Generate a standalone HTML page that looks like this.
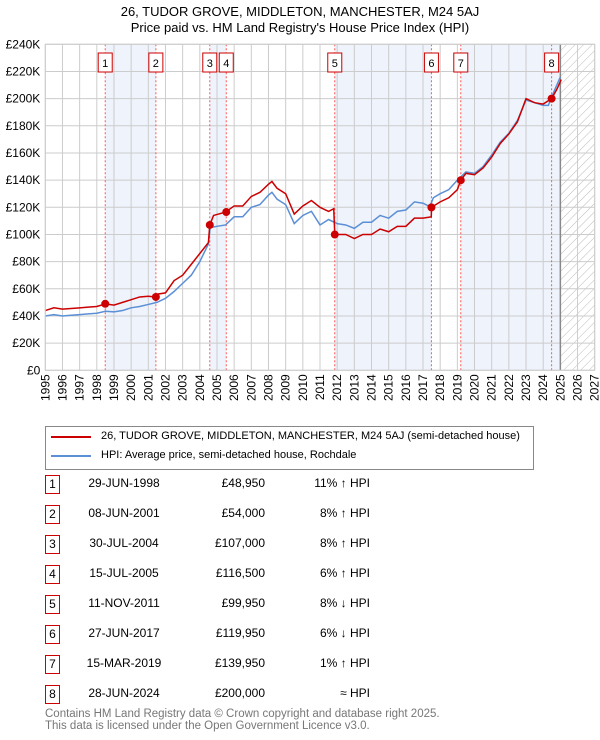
<!DOCTYPE html>
<html><head><meta charset="utf-8"><style>
body{margin:0;background:#fff;font-family:"Liberation Sans","DejaVu Sans",sans-serif;}
#wrap{position:relative;width:600px;height:740px;overflow:hidden;}
.t{position:absolute;font-size:12px;color:#000;white-space:nowrap;}
.box{position:absolute;border:1px solid #c00;width:13px;height:17px;font-size:12px;text-align:center;line-height:17px;}
</style></head><body><div id="wrap">
<svg id="svg" width="600" height="420" style="position:absolute;left:0;top:0">
<defs><pattern id="hatch" width="6" height="6" patternUnits="userSpaceOnUse" patternTransform="rotate(45)"><rect width="6" height="6" fill="#fff"/><line x1="0" y1="0" x2="0" y2="6" stroke="#bbb" stroke-width="1"/></pattern></defs>
<text x="300" y="16" text-anchor="middle" font-size="13" font-family="Liberation Sans, DejaVu Sans, sans-serif">26, TUDOR GROVE, MIDDLETON, MANCHESTER, M24 5AJ</text>
<text x="300" y="32" text-anchor="middle" font-size="13" font-family="Liberation Sans, DejaVu Sans, sans-serif">Price paid vs. HM Land Registry's House Price Index (HPI)</text>
</svg>
<div style="position:absolute;left:45px;top:426px;width:487px;height:42px;border:1px solid #888;">
<div style="position:absolute;left:5px;top:9px;width:40px;height:2px;background:#c00"></div>
<div class="t" style="left:55px;top:3px;font-size:11px">26, TUDOR GROVE, MIDDLETON, MANCHESTER, M24 5AJ (semi-detached house)</div>
<div style="position:absolute;left:5px;top:28px;width:40px;height:2px;background:#5b8fd6"></div>
<div class="t" style="left:55px;top:22px;font-size:11px">HPI: Average price, semi-detached house, Rochdale</div>
</div>
<div id="table"></div>
<div class="t" style="left:45px;top:709px;color:#777;font-size:11.5px;line-height:11.5px">Contains HM Land Registry data © Crown copyright and database right 2025.<br>This data is licensed under the Open Government Licence v3.0.</div>
</div>
<script>
const yearTicks=[1995,1996,1997,1998,1999,2000,2001,2002,2003,2004,2005,2006,2007,2008,2009,2010,2011,2012,2013,2014,2015,2016,2017,2018,2019,2020,2021,2022,2023,2024,2025,2026,2027];
const valueTicks=[0,20,40,60,80,100,120,140,160,180,200,220,240];
const valueTickLabels=["£0","£20K","£40K","£60K","£80K","£100K","£120K","£140K","£160K","£180K","£200K","£220K","£240K"];
const hpiYears=[1995,1995.5,1996,1996.5,1997,1997.5,1998,1998.5,1999,1999.5,2000,2000.5,2001,2001.5,2002,2002.5,2003,2003.5,2004,2004.5,2004.6,2005,2005.5,2006,2006.5,2007,2007.5,2008,2008.2,2008.5,2009,2009.5,2010,2010.5,2011,2011.5,2012,2012.5,2013,2013.5,2014,2014.5,2015,2015.5,2016,2016.5,2017,2017.4,2017.6,2018,2018.5,2019,2019.5,2020,2020.5,2021,2021.5,2022,2022.5,2023,2023.5,2024,2024.3,2024.5,2025];
const hpiValues=[40,41,40,40.5,41,41.5,42,43.5,43,44,46,47,48.5,50,53,58,64,70,80,93,105,106,107,113,113,120,122,129,131,126,122,108,114,117,107,111,108,107,104.5,109,109,114,112,117,118,124,123,120.5,127,130,133,140,146,145,150,158.5,168,174.5,184,199,197,195,195,201.5,216];
const priceYears=[1995,1995.5,1996,1996.5,1997,1997.5,1998,1998.5,1999,1999.5,2000,2000.5,2001,2001.4,2001.5,2002,2002.5,2003,2003.5,2004,2004.5,2004.58,2004.8,2005.5,2006,2006.5,2007,2007.5,2008,2008.2,2008.5,2009,2009.5,2010,2010.5,2011,2011.5,2011.8,2011.86,2012.5,2013,2013.5,2014,2014.5,2015,2015.5,2016,2016.5,2017,2017.48,2017.5,2018,2018.5,2019,2019.2,2019.5,2020,2020.5,2021,2021.5,2022,2022.5,2023,2023.5,2024,2024.49,2024.8,2025.05];
const priceValues=[44,46,45,45.5,46,46.5,47,48.9,48,50,52,54,54.5,54,56,57,66,70,78,86,94,107,114,116.5,121,121,128,131,137,139,134,130,115,121,125,120,117,119,100,100,97,100,100,104,102,106,106,112,112,113,120,124,127,133,140,145,144,149,157,167,174,183,200,197,196,200,207,214];
const saleLabels=["1","2","3","4","5","6","7","8"];
const saleYears=[1998.49,2001.44,2004.58,2005.54,2011.86,2017.49,2019.2,2024.49];
const salePrices=[48.95,54,107,116.5,99.95,119.95,139.95,200];
const saleDates=["29-JUN-1998","08-JUN-2001","30-JUL-2004","15-JUL-2005","11-NOV-2011","27-JUN-2017","15-MAR-2019","28-JUN-2024"];
const salePriceText=["£48,950","£54,000","£107,000","£116,500","£99,950","£119,950","£139,950","£200,000"];
const saleHpiText=["11% ↑ HPI","8% ↑ HPI","8% ↑ HPI","6% ↑ HPI","8% ↓ HPI","6% ↓ HPI","1% ↑ HPI","≈ HPI"];

const L=45.3,R=594.7,T=44.3,B=370.3,X0=1995,X1=2027,YMAX=240,NOW=2025;
const sx=v=>L+(v-X0)/(X1-X0)*(R-L);
const sy=v=>B-v/YMAX*(B-T);
const svg=document.getElementById('svg');
const NS='http://www.w3.org/2000/svg';
function mk(tag,attrs){const e=document.createElementNS(NS,tag);for(const k in attrs)e.setAttribute(k,attrs[k]);svg.appendChild(e);return e;}
// shaded bands: 1-2, 3-4, 5-6, 7-now
const bandStarts=[0,2,4,6];
bandStarts.forEach(i=>{
  const a=saleYears[i], b=(i+1<saleYears.length-1)?saleYears[i+1]:NOW;
  const r=mk('rect',{x:sx(a),y:T,width:sx(b)-sx(a),height:B-T,fill:'#eef3fc'});
  
  
});
const h=mk('rect',{x:sx(NOW),y:T,width:R-sx(NOW),height:B-T,fill:'url(#hatch)'});


yearTicks.forEach(y=>{
  const g=mk('line',{x1:sx(y),x2:sx(y),y1:T,y2:B,stroke:'#ccc','stroke-width':1});
  
  
  const t=mk('text',{x:0,y:0,transform:`translate(${sx(y)+4},${B+4}) rotate(-90)`,'text-anchor':'end','font-size':12,'font-family':'Liberation Sans, DejaVu Sans, sans-serif'});
  t.textContent=y;
  
  
});
valueTicks.forEach((v,i)=>{
  const g=mk('line',{x1:L,x2:R,y1:sy(v),y2:sy(v),stroke:'#ccc','stroke-width':1});
  
  
  const t=mk('text',{x:L-5,y:sy(v)+4,'text-anchor':'end','font-size':12,'font-family':'Liberation Sans, DejaVu Sans, sans-serif'});
  t.textContent=valueTickLabels[i];
  
  
});
const nl=mk('line',{x1:sx(NOW),x2:sx(NOW),y1:T,y2:B,stroke:'#888','stroke-width':1.5});


saleYears.forEach((y,i)=>{
  const l=mk('line',{x1:sx(y),x2:sx(y),y1:T,y2:B,stroke:'#f55','stroke-width':1,'stroke-dasharray':'2,2'});
  
  
  const bx=mk('rect',{x:sx(y)-7,y:53,width:14,height:19,fill:'#fff',stroke:'#c00','stroke-width':1});
  
  
  const t=mk('text',{x:sx(y),y:67,'text-anchor':'middle','font-size':11,'font-family':'Liberation Sans, DejaVu Sans, sans-serif'});
  t.textContent=saleLabels[i];
  
  
});
const hp=mk('polyline',{points:hpiYears.map((y,i)=>sx(y)+','+sy(hpiValues[i])).join(' '),fill:'none',stroke:'#5b8fd6','stroke-width':1.5});


const pp=mk('polyline',{points:priceYears.map((y,i)=>sx(y)+','+sy(priceValues[i])).join(' '),fill:'none',stroke:'#c00','stroke-width':1.5});


saleYears.forEach((y,i)=>{
  const c=mk('circle',{cx:sx(y),cy:sy(salePrices[i]),r:4,fill:'#c00'});
  
  
});
const fr=mk('rect',{x:L,y:T,width:R-L,height:B-T,fill:'none',stroke:'#ccc','stroke-width':1});


const tb=document.getElementById('table');
const rowY=[484,514,544,574,604,634,664,694];
saleDates.forEach((d,i)=>{
  const y=rowY[i];
  const b=document.createElement('div');b.className='box';b.style.left='45px';b.style.top=(y-9)+'px';b.textContent=saleLabels[i];
  
  
  tb.appendChild(b);
  const dt=document.createElement('div');dt.className='t';dt.style.left='84px';dt.style.width='80px';dt.style.textAlign='center';dt.style.top=(y-8)+'px';dt.textContent=d;
  
  
  tb.appendChild(dt);
  const p=document.createElement('div');p.className='t';p.style.left='185px';p.style.width='80px';p.style.textAlign='right';p.style.top=(y-8)+'px';p.textContent=salePriceText[i];
  
  
  tb.appendChild(p);
  const hh=document.createElement('div');hh.className='t';hh.style.left='270px';hh.style.width='100px';hh.style.textAlign='right';hh.style.top=(y-8)+'px';hh.textContent=saleHpiText[i];
  
  
  tb.appendChild(hh);
});
</script></body></html>
